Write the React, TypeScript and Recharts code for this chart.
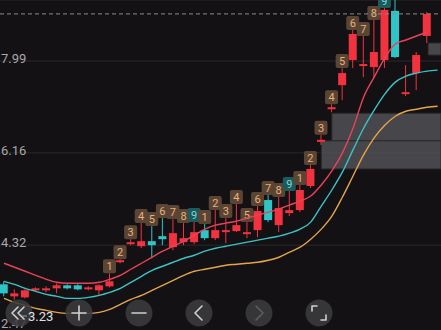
import {
  ComposedChart,
  Bar,
  Line,
  XAxis,
  YAxis,
  CartesianGrid,
  ReferenceArea,
  ReferenceLine,
} from 'recharts';

// candles
const opens = [3.54, 3.3, 3.28, 3.42, 3.42, 3.46, 3.52, 3.52, 3.44, 3.42, 3.5, 3.98, 4.34, 4.3, 4.4, 4.5, 4.28, 4.38, 4.38, 4.62, 4.46, 4.58, 4.6, 4.54, 4.62, 5.22, 4.72, 4.96, 5.02, 5.5, 6.38, 7.03, 7.51, 8.01, 7.89, 7.87, 8.01, 8.99, 7.33, 7.75, 8.49];
const closes = [3.36, 3.36, 3.42, 3.46, 3.46, 3.52, 3.46, 3.44, 3.48, 3.52, 3.6, 4.02, 4.38, 4.4, 4.32, 4.44, 4.56, 4.46, 4.58, 4.46, 4.62, 4.62, 4.72, 4.58, 5.0, 4.82, 5.06, 5.02, 5.42, 5.84, 6.42, 7.07, 7.75, 8.53, 7.93, 8.17, 9.01, 8.07, 7.37, 8.11, 8.93];
const highs = [3.6, 3.44, 3.44, 3.48, 3.5, 3.56, 3.54, 3.54, 3.5, 3.54, 3.76, 4.04, 4.44, 4.76, 4.7, 4.86, 4.84, 4.76, 4.78, 4.74, 5.02, 4.86, 5.14, 4.78, 5.1, 5.32, 5.28, 5.4, 5.52, 5.92, 6.52, 7.13, 7.85, 8.61, 8.49, 8.81, 9.05, 9.41, 7.91, 8.17, 8.97];
const lows = [3.3, 3.23, 3.26, 3.4, 3.38, 3.36, 3.44, 3.42, 3.42, 3.32, 3.48, 3.96, 4.32, 4.26, 4.06, 4.32, 4.22, 4.32, 4.34, 4.42, 4.42, 4.36, 4.58, 4.46, 4.48, 4.78, 4.58, 4.9, 4.98, 5.46, 6.32, 6.97, 7.21, 7.85, 7.67, 7.65, 7.85, 8.05, 7.29, 7.41, 8.35];
// sequential count markers (0 = none)
const tdCount = [0, 0, 0, 0, 0, 0, 0, 0, 0, 0, 1, 2, 3, 4, 5, 6, 7, 8, 9, 1, 2, 3, 4, 5, 6, 7, 8, 9, 1, 2, 3, 4, 5, 6, 7, 8, 9, 0, 0, 0, 0];

// moving averages (one extra slot on the right)
const ma5 = [3.96, 3.88, 3.8, 3.72, 3.64, 3.58, 3.56, 3.56, 3.56, 3.58, 3.64, 3.72, 3.84, 3.96, 4.08, 4.2, 4.3, 4.4, 4.52, 4.64, 4.72, 4.76, 4.8, 4.86, 4.92, 4.98, 5.04, 5.12, 5.2, 5.3, 5.52, 5.8, 6.16, 6.65, 7.27, 7.67, 8.05, 8.33, 8.41, 8.49, 8.57, null];
const ma10 = [3.6, 3.54, 3.46, 3.4, 3.34, 3.3, 3.26, 3.26, 3.28, 3.32, 3.38, 3.46, 3.58, 3.7, 3.82, 3.9, 3.98, 4.06, 4.12, 4.2, 4.26, 4.3, 4.34, 4.38, 4.42, 4.46, 4.5, 4.56, 4.64, 4.78, 5.1, 5.42, 5.78, 6.22, 6.65, 7.01, 7.33, 7.57, 7.69, 7.75, 7.79, 7.81];
const ma20 = [3.26, 3.18, 3.12, 3.06, 3.02, 2.98, 2.96, 2.96, 2.96, 2.98, 3.04, 3.14, 3.24, 3.32, 3.42, 3.52, 3.62, 3.72, 3.8, 3.84, 3.88, 3.92, 3.94, 3.96, 3.98, 4.02, 4.08, 4.18, 4.28, 4.44, 4.64, 4.9, 5.28, 5.7, 6.12, 6.46, 6.71, 6.89, 6.99, 7.03, 7.07, 7.09];

const yTicks = [2.47, 4.32, 6.16, 7.99];

// grey zones: start index, top price, bottom price
const zoneStart = [31, 30, 40.1];
const zoneTop = [6.95, 6.4, 8.35];
const zoneBottom = [6.4, 5.84, 8.11];

const BG = '#131114';
const UP = '#f2323e';
const DOWN = '#2fc5c7';
const X_MIN = -0.38;
const X_MAX = 41.32;
const Y_MIN = 2.47;
const Y_MAX = 9.207;

const rows = ma10.map((_, i) => ({
  i,
  open: opens[i] ?? null,
  close: closes[i] ?? null,
  high: highs[i] ?? null,
  low: lows[i] ?? null,
  td: tdCount[i] ?? 0,
  ma5: ma5[i],
  ma10: ma10[i],
  ma20: ma20[i],
}));

const lastClose = closes[closes.length - 1];
const minLow = Math.min(...lows);

function Candle(props: any) {
  const { x, y, width, height, payload } = props;
  if (!payload || payload.open == null) return null;
  const { open, close, high, low, td } = payload;
  const color = close >= open ? UP : DOWN;
  const k = height / (high - low);
  const py = (v: number) => y + (high - v) * k;
  const cx = x + width / 2;
  const top = py(Math.max(open, close));
  const bot = py(Math.min(open, close));
  const nine = td === 9;
  return (
    <g>
      <line x1={cx} x2={cx} y1={y} y2={y + height} stroke={color} strokeWidth={1} />
      <rect x={x} y={top} width={width} height={Math.max(bot - top, 1.5)} fill={color} />
      {td > 0 && (
        <g>
          <rect x={cx - 6.5} y={y - 14} width={13} height={14} rx={2} fill={nine ? '#1d5a5c' : '#5a4535'} />
          <text
            x={cx}
            y={y - 3}
            textAnchor="middle"
            fontSize={11}
            fontFamily="Roboto, sans-serif"
            fill={nine ? '#7fd6d8' : '#eab07a'}
          >
            {td}
          </text>
        </g>
      )}
    </g>
  );
}

function PriceTick(props: any) {
  const { y, payload } = props;
  return (
    <text x={1} y={Math.min(y + 2, 328)} fontSize={13} fontFamily="Roboto, sans-serif" fill="#a8a7aa">
      {Number(payload.value).toFixed(2)}
    </text>
  );
}

function Controls() {
  const cy = 313;
  const icon = { stroke: '#cfcfd1', strokeWidth: 1.6, fill: 'none', strokeLinecap: 'round' as const, strokeLinejoin: 'round' as const };
  const cxs = [19, 79, 139, 199, 259, 319];
  return (
    <svg width={441} height={330} style={{ position: 'absolute', left: 0, top: 0, pointerEvents: 'none' }}>
      {cxs.map((c) => (
        <circle key={c} cx={c} cy={cy} r={13.5} fill="#3b3a3d" fillOpacity={0.88} />
      ))}
      <path d={`M${19 - 1} ${cy - 6} L${19 - 7} ${cy} L${19 - 1} ${cy + 6} M${19 + 5} ${cy - 6} L${19 - 1} ${cy} L${19 + 5} ${cy + 6}`} {...icon} />
      <path d={`M${79 - 7} ${cy} H${79 + 7} M79 ${cy - 7} V${cy + 7}`} {...icon} />
      <path d={`M${139 - 7} ${cy} H${139 + 7}`} {...icon} />
      <path d={`M${199 + 3} ${cy - 7} L${199 - 4} ${cy} L${199 + 3} ${cy + 7}`} {...icon} />
      <path d={`M${259 - 3} ${cy - 7} L${259 + 4} ${cy} L${259 - 3} ${cy + 7}`} {...icon} stroke="#5e5d61" />
      <path d={`M${319 - 7} ${cy - 2} V${cy - 7} H${319 - 2} M${319 + 7} ${cy + 2} V${cy + 7} H${319 + 2}`} {...icon} />
      <line x1={22} x2={27} y1={316} y2={316} stroke="#9a9a9c" strokeWidth={1} />
      <text x={28} y={321} fontSize={13} fontFamily="Roboto, sans-serif" fill="#e2e2e4">
        {minLow.toFixed(2)}
      </text>
    </svg>
  );
}

export default function App() {
  return (
    <div style={{ position: 'fixed', left: 0, top: 0, width: 441, height: 330, overflow: 'hidden', background: BG }}>
      <ComposedChart width={441} height={338} data={rows} margin={{ top: 0, right: 0, bottom: 0, left: 0 }}>
        <CartesianGrid vertical={false} stroke="#2a292c" />
        <XAxis type="number" dataKey="i" domain={[X_MIN, X_MAX]} allowDataOverflow hide />
        <YAxis
          domain={[Y_MIN, Y_MAX]}
          ticks={yTicks}
          allowDataOverflow
          mirror
          interval={0}
          axisLine={false}
          tickLine={false}
          tick={<PriceTick />}
        />
        {zoneStart.map((s, k) => (
          <ReferenceArea
            key={k}
            x1={s}
            x2={X_MAX}
            y1={zoneBottom[k]}
            y2={zoneTop[k]}
            fill="#555457"
            fillOpacity={0.8}
            stroke="#2a292c"
            strokeWidth={1}
          />
        ))}
        <ReferenceLine y={lastClose} stroke="#8c8b8e" strokeDasharray="4 3" strokeWidth={1} />
        <Bar
          dataKey={(d: any) => (d.high == null ? null : [d.low, d.high])}
          shape={<Candle />}
          activeBar={false}
          barSize={8}
          isAnimationActive={false}
        />
        <Line type="monotone" dataKey="ma20" stroke="#e3a54a" strokeWidth={1.4} dot={false} activeDot={false} isAnimationActive={false} />
        <Line type="monotone" dataKey="ma10" stroke="#3bc3c5" strokeWidth={1.4} dot={false} activeDot={false} isAnimationActive={false} />
        <Line type="monotone" dataKey="ma5" stroke="#e8435a" strokeWidth={1.4} dot={false} activeDot={false} isAnimationActive={false} />
      </ComposedChart>
      <Controls />
    </div>
  );
}
